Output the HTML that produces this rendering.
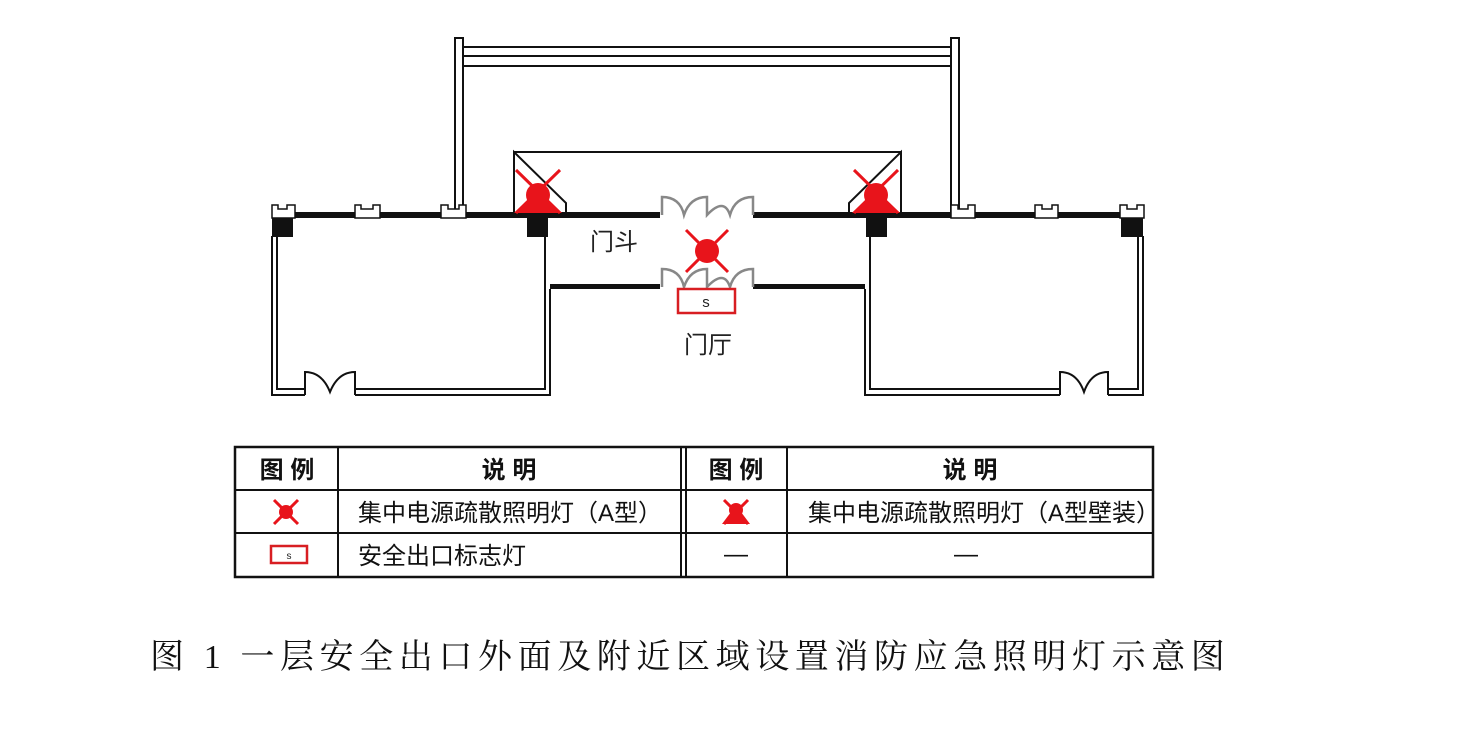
<!DOCTYPE html>
<html><head><meta charset="utf-8"><style>
html,body{margin:0;padding:0;background:#fff;}
svg{display:block}
</style></head><body>
<svg width="1461" height="733" viewBox="0 0 1461 733" xmlns="http://www.w3.org/2000/svg">
<g fill="none" stroke="#111" stroke-width="2">
 <rect x="455" y="38" width="8" height="175"/>
 <rect x="951" y="38" width="8" height="175"/>
 <line x1="463" y1="47" x2="951" y2="47"/>
 <line x1="463" y1="56" x2="951" y2="56"/>
 <line x1="463" y1="66" x2="951" y2="66"/>
 <line x1="514" y1="152" x2="901" y2="152"/>
 <polyline points="514,213 514,152 566,203 566,213"/>
 <polyline points="901,213 901,152 849,203 849,213"/>
 <path d="M272,236 V395 H305 M355,395 H550 V289"/>
 <path d="M277,236 V389 H305 M355,389 H545 V236"/>
 <path d="M305,395 V372 Q322,372 330,392 Q338,372 355,372 V395"/>
 <path d="M1143,236 V395 H1108 M1060,395 H865 V289"/>
 <path d="M1138,236 V389 H1108 M1060,389 H870 V236"/>
 <path d="M1060,395 V372 Q1077,372 1084,392 Q1091,372 1108,372 V395"/>
</g>
<g fill="#111">
 <rect x="272" y="212" width="388" height="6"/>
 <rect x="753" y="212" width="390" height="6"/>
 <rect x="550" y="284" width="110" height="5"/>
 <rect x="753" y="284" width="112" height="5"/>
 <rect x="272" y="218" width="21" height="19"/>
 <rect x="527" y="218" width="21" height="19"/>
 <rect x="866" y="218" width="21" height="19"/>
 <rect x="1121" y="218" width="22" height="19"/>
</g>
<g fill="#fff" stroke="#111" stroke-width="1.5">
 <path d="M272,218 V205 H278 V209 H287 V205 H295 V218 Z"/>
 <path d="M355,218 V205 H361 V209 H373 V205 H380 V218 Z"/>
 <path d="M441,218 V205 H448 V209 H459 V205 H466 V218 Z"/>
 <path d="M951,218 V205 H958 V209 H968 V205 H975 V218 Z"/>
 <path d="M1035,218 V205 H1042 V209 H1052 V205 H1058 V218 Z"/>
 <path d="M1120,218 V205 H1127 V209 H1137 V205 H1144 V218 Z"/>
</g>
<g fill="none" stroke="#888" stroke-width="2.5">
 <path d="M662,215 V197 Q680,197 684,215 Q690,197 707,197 V215 Q724,197 730,215 Q735,197 753,197 V215"/>
 <path d="M662,287 V269 Q680,269 684,287 Q690,269 707,269 V287 Q724,269 730,287 Q735,269 753,269 V287"/>
</g>
<g stroke="#e8141b" stroke-width="3" fill="#e8141b">
 <line x1="516" y1="170" x2="560" y2="213"/><line x1="560" y1="170" x2="516" y2="213"/>
 <circle cx="538" cy="195" r="12" stroke="none"/>
 <polygon points="530,198 546,198 562,213 514,213" stroke="none"/>
 <line x1="854" y1="170" x2="898" y2="213"/><line x1="898" y1="170" x2="854" y2="213"/>
 <circle cx="876" cy="195" r="12" stroke="none"/>
 <polygon points="868,198 884,198 900,213 852,213" stroke="none"/>
 <line x1="686" y1="230" x2="728" y2="272"/><line x1="728" y1="230" x2="686" y2="272"/>
 <circle cx="707" cy="251" r="12" stroke="none"/>
</g>
<rect x="678" y="289" width="57" height="24" fill="#fff" stroke="#d81e22" stroke-width="2.5"/>
<text x="706" y="307" font-family="Liberation Sans, sans-serif" font-size="15" text-anchor="middle" fill="#222">s</text>
<g font-family="Liberation Sans, 'Noto Sans CJK SC', sans-serif" font-size="24" fill="#222">
 <text x="590" y="250">门斗</text>
 <text x="684" y="353">门厅</text>
</g>
<g stroke="#111" fill="none">
 <rect x="235" y="447" width="918" height="130" stroke-width="2.5"/>
 <line x1="235" y1="490" x2="1153" y2="490" stroke-width="2"/>
 <line x1="235" y1="533" x2="1153" y2="533" stroke-width="2"/>
 <line x1="338" y1="447" x2="338" y2="577" stroke-width="2"/>
 <line x1="681" y1="447" x2="681" y2="577" stroke-width="2"/>
 <line x1="686" y1="447" x2="686" y2="577" stroke-width="2"/>
 <line x1="787" y1="447" x2="787" y2="577" stroke-width="2"/>
</g>
<g font-family="Liberation Sans, 'Noto Sans CJK SC', sans-serif" font-size="24" fill="#111" font-weight="bold">
 <text x="287" y="478" text-anchor="middle">图 例</text>
 <text x="509" y="478" text-anchor="middle">说 明</text>
 <text x="736" y="478" text-anchor="middle">图 例</text>
 <text x="970" y="478" text-anchor="middle">说 明</text>
</g>
<g font-family="Liberation Sans, 'Noto Sans CJK SC', sans-serif" font-size="24" fill="#111">
 <text x="358" y="521">集中电源疏散照明灯（A型）</text>
 <text x="808" y="521">集中电源疏散照明灯（A型壁装）</text>
 <text x="358" y="564">安全出口标志灯</text>
 <text x="736" y="562" text-anchor="middle">—</text>
 <text x="966" y="562" text-anchor="middle">—</text>
</g>
<g stroke="#e8141b" stroke-width="3" fill="#e8141b">
 <line x1="274" y1="500" x2="298" y2="524"/><line x1="298" y1="500" x2="274" y2="524"/>
 <circle cx="286" cy="512" r="7" stroke="none"/>
 <line x1="724" y1="500" x2="748" y2="524"/><line x1="748" y1="500" x2="724" y2="524"/>
 <circle cx="736" cy="510" r="7" stroke="none"/>
 <polygon points="731,512 741,512 750,524 722,524" stroke="none"/>
</g>
<rect x="271" y="546" width="36" height="17" fill="#fff" stroke="#d81e22" stroke-width="2.5"/>
<text x="289" y="559" font-family="Liberation Sans, sans-serif" font-size="10" text-anchor="middle" fill="#222">s</text>
<text x="150" y="668" font-family="'Liberation Serif','Noto Serif CJK SC',serif" font-size="34" letter-spacing="5.6" fill="#111">图 1 一层安全出口外面及附近区域设置消防应急照明灯示意图</text>
</svg>
</body></html>
